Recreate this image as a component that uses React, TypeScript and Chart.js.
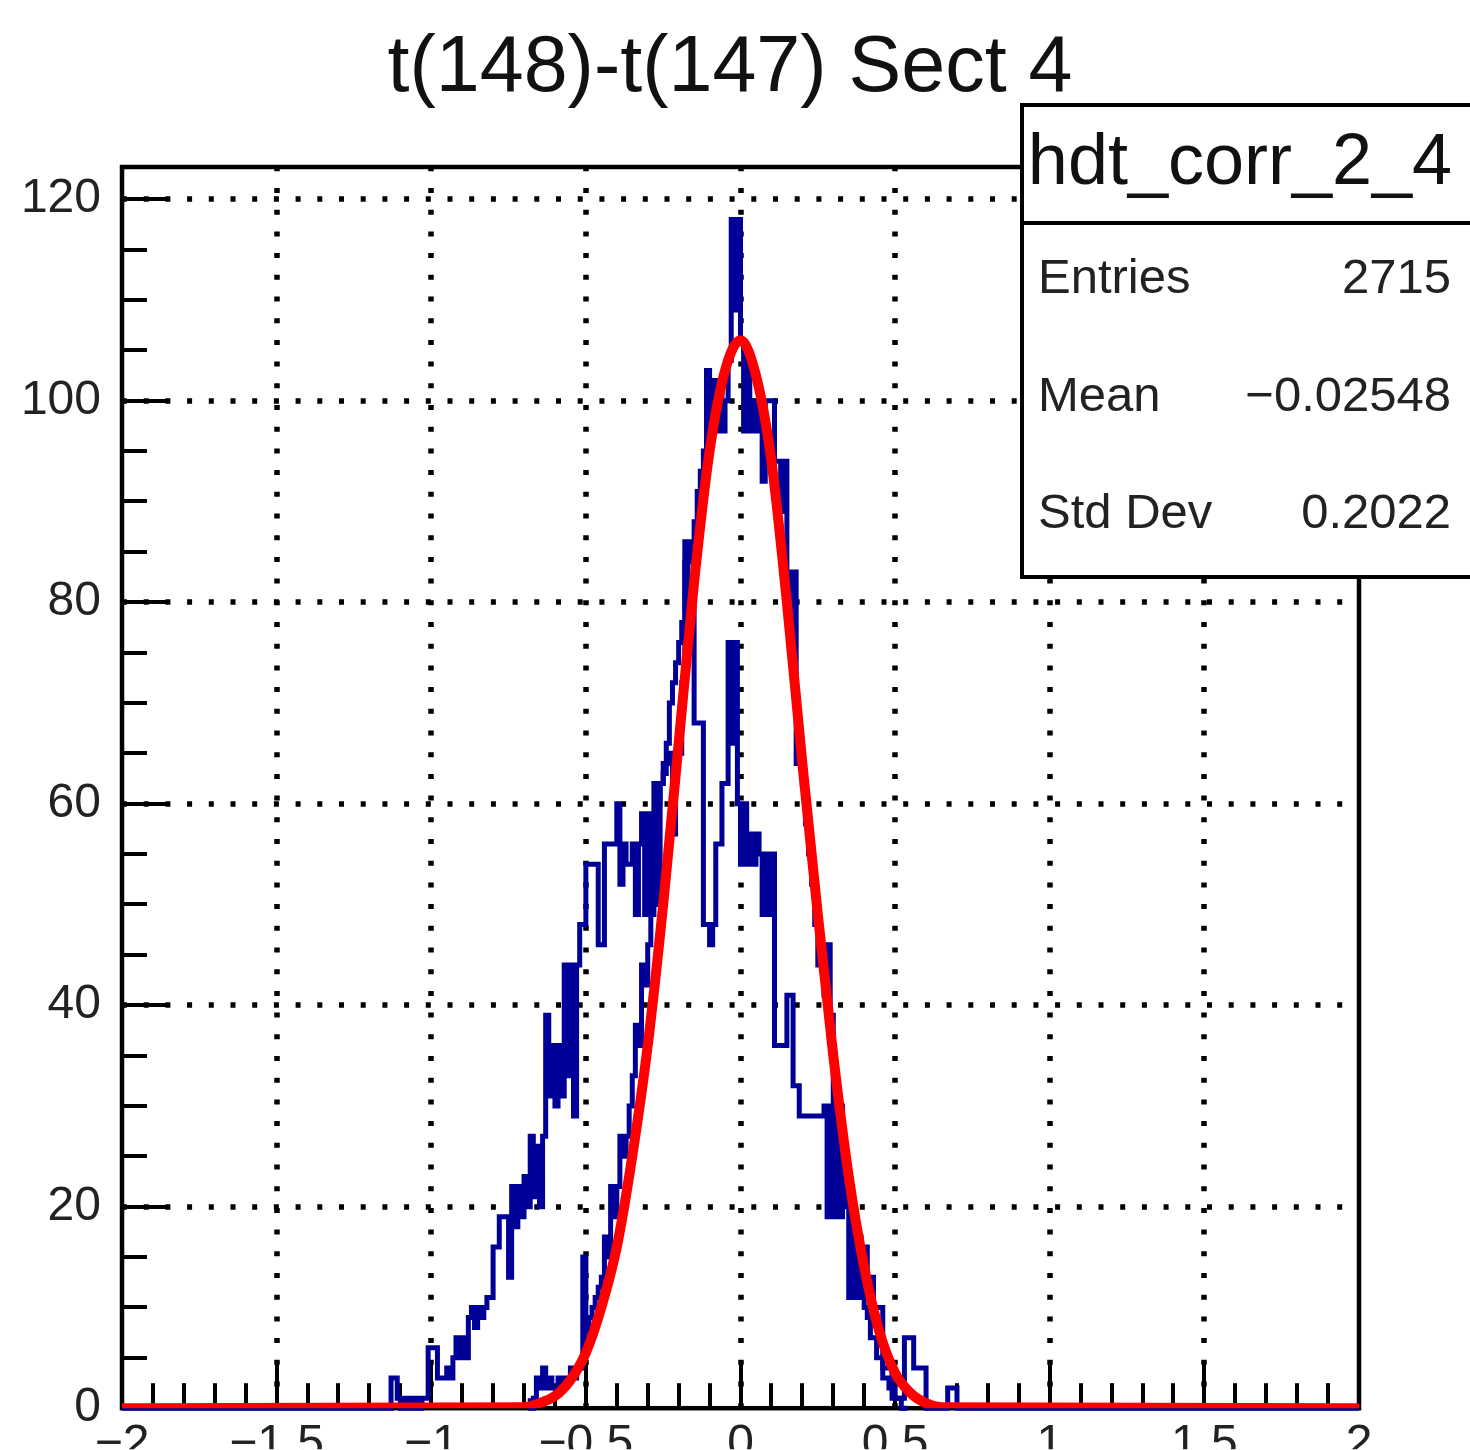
import React, { useEffect, useRef } from "react";
import { Chart, registerables } from "chart.js";

Chart.register(...registerables);

// ---------------- data ----------------
const titleText = "t(148)-t(147) Sect 4";
const histName = "hdt_corr_2_4";
const statsLabels = ["Entries", "Mean", "Std Dev"];
const statsValues = ["2715", "\u22120.02548", "0.2022"];

const xRange = [-2, 2];
const yRange = [0, 123.2];
const xMajorStep = 0.5;
const xMinorStep = 0.1;
const yMajorStep = 20;
const yMinorStep = 5;

const binWidth = 0.01;

// broad histogram (bins of 0.01 starting at -1.20)
const broadStart = -1.2;
const broadCounts = [
  0, 0, 0, 0, 0, 0, 0, 0, 3, 3,
  1, 0, 1, 0, 1, 0, 1, 0, 1, 1,
  6, 6, 6, 3, 3, 3, 4, 3, 5, 7,
  5, 7, 5, 9, 10, 8, 10, 9, 10, 11,
  11, 16, 16, 19, 19, 19, 13, 22, 18, 22,
  19, 23, 20, 27, 21, 26, 20, 27, 39, 31,
  36, 30, 36, 31, 44, 33, 44, 29, 44, 48,
  48, 54, 54, 54, 54, 46, 46, 56, 56, 56,
  56, 60, 52, 56, 54, 54, 56, 49, 56, 59,
  49, 59, 49, 62, 50, 62, 64, 64, 65, 57,
  65, 65, 72, 84, 77, 80, 68, 68, 68, 48,
  48, 46, 48, 56, 56, 62, 62, 76, 66, 76,
  60, 54, 60, 54, 57, 54, 57, 55, 49, 55,
  49, 55, 36, 36, 36, 36, 41, 41, 32, 32,
  29, 29, 29, 29, 29, 29, 29, 29, 30, 19,
  30, 19, 28, 19, 22, 22, 11, 20, 11, 17,
  11, 16, 13, 13, 10, 10, 10, 4, 4, 4,
  1, 1, 1, 1, 7, 7, 7, 4, 4, 4,
  4, 0, 0, 0, 0, 0, 0, 0, 2, 2,
  2, 0,
];

// narrow histogram (bins of 0.01 starting at -0.68)
const narrowStart = -0.68;
const narrowCounts = [
  1, 0, 1, 3, 2, 4, 2, 3,
  2, 2, 3, 2, 3, 3, 4, 3, 4, 4,
  15, 7, 9, 10, 11, 12, 13, 17, 15, 22,
  19, 22, 27, 25, 27, 30, 33, 38, 36, 44,
  42, 46, 50, 52, 60, 62, 63, 66, 70, 72,
  74, 76, 78, 86, 84, 86, 88, 91, 93, 95,
  103, 98, 102, 97, 102, 97, 100, 104, 118, 109,
  118, 106, 97, 104, 97, 100, 97, 100, 92, 100,
  100, 100, 94, 94, 89, 94, 83, 76, 83, 64,
  66, 62, 58, 55, 52, 48, 44, 46, 41, 46,
  39, 30, 26, 30, 22, 20, 22, 14, 18, 11,
  14, 10, 9, 7, 7, 5, 5, 3, 3, 2,
  2, 1, 1, 0,
];

// gaussian fit curve, read at sample points
const fitX = [-2, -0.7, -0.65, -0.6, -0.55, -0.5, -0.45, -0.4, -0.35, -0.3, -0.25, -0.2, -0.15, -0.1, -0.05, 0, 0.05, 0.1, 0.15, 0.2, 0.25, 0.3, 0.35, 0.4, 0.45, 0.5, 0.55, 0.6, 0.65, 2];
const fitY = [0, 0.1, 0.5, 1.2, 2.8, 5.5, 10, 16, 25, 36, 50, 66, 82, 95, 103, 106, 102.5, 94, 80, 64, 49, 35, 23, 14, 7.5, 3.5, 1.5, 0.5, 0.1, 0];

// ---------------- helpers ----------------
const r3 = (v: number) => Math.round(v * 1000) / 1000;

function histPoints(start: number, counts: number[], fullRange: boolean) {
  const pts: { x: number; y: number }[] = [];
  if (fullRange) pts.push({ x: xRange[0], y: 0 });
  counts.forEach((c, i) => pts.push({ x: r3(start + i * binWidth), y: c }));
  const end = r3(start + counts.length * binWidth);
  pts.push({ x: end, y: 0 });
  if (fullRange) pts.push({ x: xRange[1], y: 0 });
  return pts;
}

const fmt = (v: number) => {
  const n = Math.round(Number(v) * 100) / 100;
  return n < 0 ? "\u2212" + String(Math.abs(n)) : String(n);
};

const FONT = "'Liberation Sans', Arial, Helvetica, sans-serif";

const rootPlugin = {
  id: "rootDecor",
  beforeDatasetsDraw(chart: any) {
    const { ctx, chartArea } = chart;
    const { left, right, top, bottom } = chartArea;
    const xs = chart.scales.x;
    const ys = chart.scales.y;
    ctx.save();
    // dotted grid
    ctx.strokeStyle = "#000";
    ctx.lineWidth = 5.5;
    ctx.setLineDash([5, 16.7]);
    for (let v = yRange[0] + yMajorStep; v <= yRange[1]; v += yMajorStep) {
      const py = Math.round(ys.getPixelForValue(v));
      ctx.beginPath();
      ctx.moveTo(left, py);
      ctx.lineTo(right, py);
      ctx.stroke();
    }
    for (let k = 1; k < (xRange[1] - xRange[0]) / xMajorStep; k++) {
      const v = xRange[0] + k * xMajorStep;
      const px = Math.round(xs.getPixelForValue(v));
      ctx.beginPath();
      ctx.moveTo(px, bottom);
      ctx.lineTo(px, top);
      ctx.stroke();
    }
    ctx.setLineDash([]);
    // ticks
    ctx.strokeStyle = "#000";
    ctx.lineWidth = 4;
    const nY = Math.floor((yRange[1] - yRange[0]) / yMinorStep);
    for (let k = 0; k <= nY; k++) {
      const v = yRange[0] + k * yMinorStep;
      const py = Math.round(ys.getPixelForValue(v));
      const len = Math.abs(v % yMajorStep) < 1e-6 ? 45 : 25;
      ctx.beginPath();
      ctx.moveTo(left, py);
      ctx.lineTo(left + len, py);
      ctx.stroke();
    }
    const nX = Math.round((xRange[1] - xRange[0]) / xMinorStep);
    const per = Math.round(xMajorStep / xMinorStep);
    for (let k = 0; k <= nX; k++) {
      const v = xRange[0] + k * xMinorStep;
      const px = Math.round(xs.getPixelForValue(v));
      const len = k % per === 0 ? 45 : 25;
      ctx.beginPath();
      ctx.moveTo(px, bottom);
      ctx.lineTo(px, bottom - len);
      ctx.stroke();
    }
    // frame
    ctx.lineWidth = 4.5;
    ctx.strokeRect(left, top, right - left, bottom - top);
    ctx.restore();
  },
  afterDraw(chart: any) {
    const { ctx } = chart;
    ctx.save();
    // title
    ctx.fillStyle = "#111";
    ctx.font = `79px ${FONT}`;
    ctx.textAlign = "center";
    ctx.textBaseline = "alphabetic";
    ctx.fillText(titleText, 730, 91);
    // stats box
    const bx = 1022, by = 105, bw = 470, bh = 472;
    ctx.fillStyle = "#fff";
    ctx.fillRect(bx, by, bw, bh);
    ctx.strokeStyle = "#000";
    ctx.lineWidth = 4;
    ctx.strokeRect(bx, by, bw, bh);
    ctx.beginPath();
    ctx.moveTo(bx, 223);
    ctx.lineTo(bx + bw, 223);
    ctx.stroke();
    ctx.fillStyle = "#111";
    ctx.font = `72px ${FONT}`;
    ctx.textAlign = "center";
    ctx.fillText(histName, 1240, 184);
    ctx.font = `49px ${FONT}`;
    const rowsY = [293, 411, 528];
    statsLabels.forEach((lab, i) => {
      ctx.fillStyle = "#222";
      ctx.textAlign = "left";
      ctx.fillText(lab, 1038, rowsY[i]);
      ctx.textAlign = "right";
      ctx.fillText(statsValues[i], 1451, rowsY[i]);
    });
    ctx.restore();
  },
};

export default function App() {
  const ref = useRef<HTMLCanvasElement | null>(null);
  useEffect(() => {
    if (!ref.current) return;
    const blue = "#000099";
    const chart = new Chart(ref.current, {
      type: "line",
      data: {
        datasets: [
          {
            label: "fit",
            data: fitX.map((x, i) => ({ x, y: fitY[i] })),
            borderColor: "#ff0000",
            borderWidth: 10,
            pointRadius: 0,
            fill: false,
            cubicInterpolationMode: "monotone",
            order: 0,
            clip: { left: 0, top: 0, right: 0, bottom: 0 },
          } as any,
          {
            label: "narrow",
            data: histPoints(narrowStart, narrowCounts, false),
            borderColor: blue,
            borderWidth: 5,
            pointRadius: 0,
            fill: false,
            stepped: "after",
            order: 1,
            clip: { left: 3, top: 0, right: 3, bottom: 3 },
          } as any,
          {
            label: "broad",
            data: histPoints(broadStart, broadCounts, true),
            borderColor: blue,
            borderWidth: 5,
            pointRadius: 0,
            fill: false,
            stepped: "after",
            order: 2,
            clip: { left: 3, top: 0, right: 3, bottom: 3 },
          } as any,
        ],
      },
      options: {
        responsive: false,
        animation: false,
        events: [],
        layout: { padding: { top: 167, right: 111, left: 0, bottom: 0 } },
        plugins: {
          legend: { display: false },
          tooltip: { enabled: false },
          title: { display: false },
        },
        scales: {
          x: {
            type: "linear",
            min: xRange[0],
            max: xRange[1],
            grid: { display: false },
            border: { display: false },
            ticks: {
              stepSize: xMajorStep,
              autoSkip: false,
              maxRotation: 0,
              minRotation: 0,
              padding: 0,
              includeBounds: false,
              color: "#222",
              font: { family: FONT, size: 48 },
              callback: (v: any) => fmt(v),
            } as any,
            afterFit: (s: any) => {
              s.height = 41;
            },
          },
          y: {
            type: "linear",
            min: yRange[0],
            max: yRange[1],
            grid: { display: false },
            border: { display: false },
            ticks: {
              stepSize: yMajorStep,
              padding: 13,
              includeBounds: false,
              color: "#222",
              font: { family: FONT, size: 48 },
              callback: (v: any) => fmt(v),
            } as any,
            afterFit: (s: any) => {
              s.width = 122;
            },
          },
        },
      },
      plugins: [rootPlugin],
    });
    return () => chart.destroy();
  }, []);
  return (
    <div style={{ position: "absolute", left: 0, top: 0, width: 1470, height: 1450, background: "#fff" }}>
      <canvas ref={ref} width={1470} height={1450} style={{ display: "block" }} />
    </div>
  );
}
